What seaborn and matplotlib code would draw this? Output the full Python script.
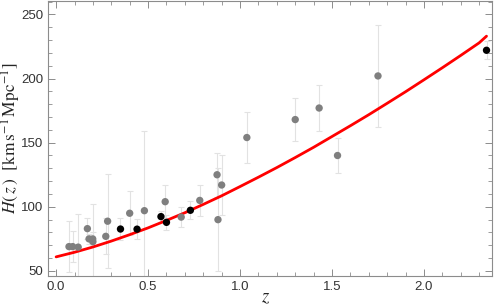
import matplotlib
matplotlib.use("Agg")
import matplotlib.pyplot as plt
import seaborn as sns
import pandas as pd
from matplotlib.ticker import MultipleLocator

# cosmic chronometer points (grey)
cc_z = [0.07, 0.09, 0.12, 0.17, 0.179, 0.199, 0.2, 0.27, 0.28, 0.4, 0.48,
        0.593, 0.68, 0.781, 0.875, 0.88, 0.9, 1.037, 1.3, 1.43, 1.53, 1.75]
cc_H = [69, 69, 68.6, 83, 75, 75, 72.9, 77, 88.8, 95, 97,
        104, 92, 105, 125, 90, 117, 154, 168, 177, 140, 202]
cc_err = [19.6, 12, 26.2, 8, 4, 5, 29.6, 14, 36.6, 17, 62,
          13, 8, 12, 17, 40, 23, 20, 17, 18, 14, 40]

# BAO points (black)
bao_z = [0.35, 0.44, 0.57, 0.60, 0.73, 2.34]
bao_H = [82.7, 82.6, 92.4, 87.9, 97.3, 222]
bao_err = [8.4, 7.8, 4.5, 6.1, 7.0, 7.0]

# best-fit curve
fit_z = [0.0, 0.1, 0.2, 0.3, 0.4, 0.5, 0.6, 0.7, 0.8, 0.9, 1.0, 1.1, 1.2,
         1.3, 1.4, 1.5, 1.6, 1.7, 1.8, 1.9, 2.0, 2.1, 2.2, 2.3, 2.34]
fit_H = [61.0, 64.6, 68.7, 73.3, 78.3, 83.6, 89.4, 95.4, 101.9, 108.6, 115.8,
         123.1, 130.6, 138.4, 146.4, 154.8, 163.2, 171.8, 180.7, 189.7, 199.0,
         208.4, 218.0, 227.8, 233.0]

sns.set_style("ticks")
plt.rcParams["font.family"] = ["Liberation Sans", "DejaVu Sans"]
plt.rcParams["mathtext.fontset"] = "stix"

fig = plt.figure(figsize=(4.96, 3.07), dpi=100)
ax = fig.add_axes([0.097, 0.101, 0.895, 0.897])

ax.errorbar(cc_z, cc_H, yerr=cc_err, fmt="none", ecolor="#e2e2e2",
            elinewidth=0.8, capsize=2, capthick=0.8, zorder=1)
ax.errorbar(bao_z, bao_H, yerr=bao_err, fmt="none", ecolor="#e2e2e2",
            elinewidth=0.8, capsize=2, capthick=0.8, zorder=1)

fit = pd.DataFrame({"z": fit_z, "H": fit_H})
sns.lineplot(data=fit, x="z", y="H", color="#ff0000", linewidth=2,
             ax=ax, zorder=2)

cc = pd.DataFrame({"z": cc_z, "H": cc_H})
bao = pd.DataFrame({"z": bao_z, "H": bao_H})
sns.scatterplot(data=cc, x="z", y="H", color="#7f7f7f", s=28,
                edgecolor="none", ax=ax, zorder=3)
sns.scatterplot(data=bao, x="z", y="H", color="black", s=28,
                edgecolor="none", ax=ax, zorder=4)

ax.set_xlim(-0.0435, 2.37)
ax.set_ylim(46.1, 260.7)
ax.xaxis.set_major_locator(MultipleLocator(0.5))
ax.xaxis.set_minor_locator(MultipleLocator(0.1))
ax.yaxis.set_major_locator(MultipleLocator(50))
ax.yaxis.set_minor_locator(MultipleLocator(10))
ax.xaxis.set_major_formatter(matplotlib.ticker.FormatStrFormatter("%.1f"))

ax.tick_params(which="both", direction="in", top=True, right=True,
               color="#8c8c8c", labelsize=9.5, labelcolor="#333333")
ax.tick_params(which="major", length=5, width=0.7)
ax.tick_params(which="minor", length=3, width=0.6)
for s in ax.spines.values():
    s.set_color("#8c8c8c")
    s.set_linewidth(0.8)

ax.set_xlabel("$z$", fontsize=13.5)
ax.xaxis.set_label_coords(0.489, -0.05)
ax.set_ylabel(r"$H(\,z\,)\ \ [\mathrm{km\,s^{-1}\,Mpc^{-1}}]$", fontsize=12.5)
ax.yaxis.set_label_coords(-0.057, 0.5)

plt.savefig("out.png", dpi=100)
plt.close()
